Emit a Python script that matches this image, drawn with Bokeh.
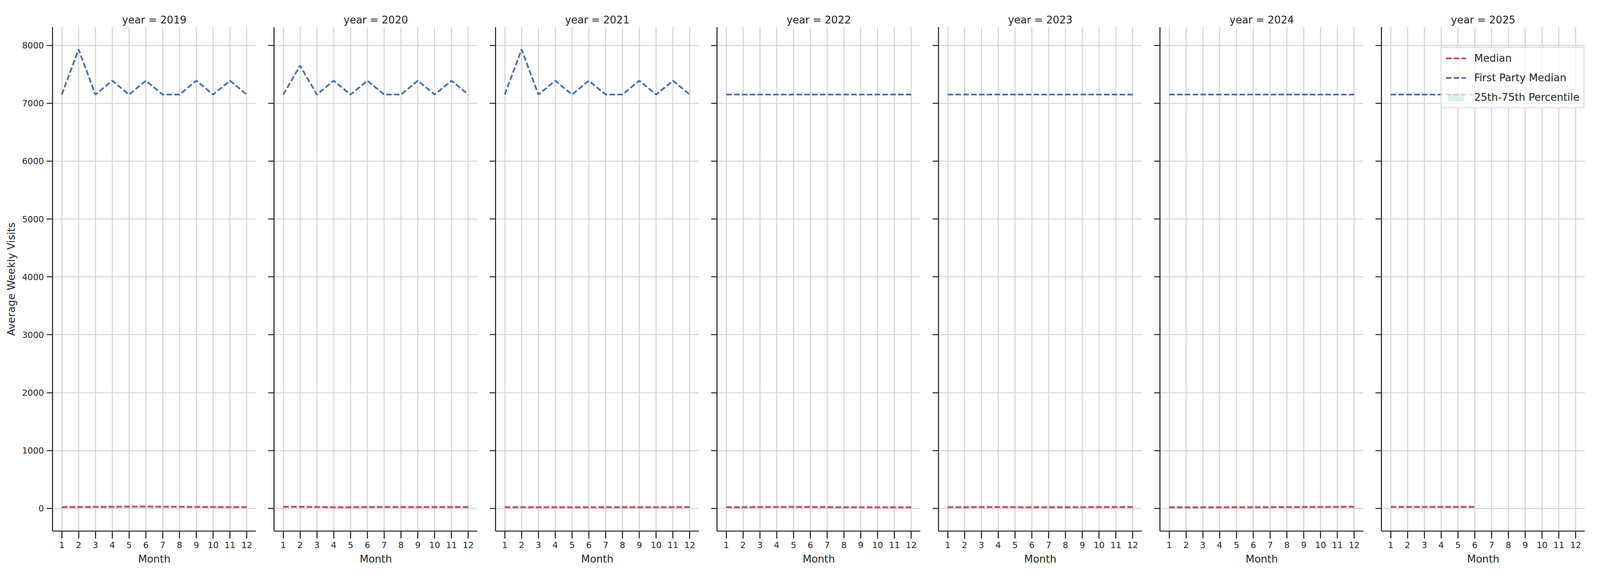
from bokeh.embed import file_html
from bokeh.layouts import row
from bokeh.models import ColumnDataSource, FixedTicker, Legend, LegendItem, Range1d
from bokeh.plotting import figure
from bokeh.resources import INLINE

# facets
years = [2019, 2020, 2021, 2022, 2023, 2024, 2025]
months = [
    [1, 2, 3, 4, 5, 6, 7, 8, 9, 10, 11, 12],
    [1, 2, 3, 4, 5, 6, 7, 8, 9, 10, 11, 12],
    [1, 2, 3, 4, 5, 6, 7, 8, 9, 10, 11, 12],
    [1, 2, 3, 4, 5, 6, 7, 8, 9, 10, 11, 12],
    [1, 2, 3, 4, 5, 6, 7, 8, 9, 10, 11, 12],
    [1, 2, 3, 4, 5, 6, 7, 8, 9, 10, 11, 12],
    [1, 2, 3, 4, 5, 6],
]

# median weekly visits (red)
median = [
    [22, 24, 26, 28, 30, 31, 30, 28, 26, 24, 23, 22],
    [29, 28, 24, 21, 21, 24, 24, 24, 23, 23, 23, 23],
    [22, 22, 21, 21, 20, 20, 21, 21, 21, 21, 22, 23],
    [21, 21, 23, 25, 26, 25, 22, 20, 19, 19, 19, 20],
    [22, 22, 23, 23, 22, 22, 22, 22, 22, 23, 23, 23],
    [21, 19, 19, 20, 21, 21, 22, 23, 24, 25, 27, 28],
    [26, 26, 27, 27, 27, 27],
]
# 25th / 75th percentile band
q25 = [
    [6, 8, 10, 11, 13, 14, 13, 11, 10, 8, 7, 6],
    [12, 11, 8, 6, 6, 8, 8, 8, 7, 7, 7, 7],
    [6, 6, 5, 5, 5, 5, 5, 5, 5, 5, 6, 7],
    [5, 5, 7, 9, 10, 9, 6, 5, 4, 4, 4, 5],
    [6, 6, 7, 7, 6, 6, 6, 6, 6, 7, 7, 7],
    [5, 4, 4, 5, 5, 5, 6, 7, 8, 9, 11, 12],
    [10, 10, 11, 11, 11, 11],
]
q75 = [
    [44, 46, 49, 52, 55, 56, 55, 52, 49, 46, 45, 44],
    [52, 51, 46, 42, 42, 46, 46, 46, 45, 45, 45, 45],
    [43, 43, 42, 42, 41, 41, 42, 42, 42, 42, 43, 45],
    [42, 42, 45, 48, 49, 48, 43, 41, 40, 40, 40, 41],
    [43, 43, 45, 45, 43, 43, 43, 43, 43, 45, 45, 45],
    [42, 40, 40, 41, 42, 42, 43, 45, 47, 48, 51, 53],
    [49, 49, 51, 51, 51, 51],
]
# first party median (blue)
first_party = [
    [7150, 7930, 7150, 7390, 7150, 7390, 7150, 7150, 7390, 7150, 7390, 7150],
    [7150, 7650, 7150, 7390, 7150, 7390, 7150, 7150, 7390, 7150, 7390, 7150],
    [7150, 7930, 7150, 7390, 7150, 7390, 7150, 7150, 7390, 7150, 7390, 7150],
    [7150, 7150, 7150, 7150, 7150, 7150, 7150, 7150, 7150, 7150, 7150, 7150],
    [7150, 7150, 7150, 7150, 7150, 7150, 7150, 7150, 7150, 7150, 7150, 7150],
    [7150, 7150, 7150, 7150, 7150, 7150, 7150, 7150, 7150, 7150, 7150, 7150],
    [7150, 7150, 7150, 7150, 7150, 7150],
]

month_ticks = [1, 2, 3, 4, 5, 6, 7, 8, 9, 10, 11, 12]
y_ticks = [0, 1000, 2000, 3000, 4000, 5000, 6000, 7000, 8000]

RED = "#c44e52"
BLUE = "#4c72b0"
BAND = "#57b894"
INK = "#262626"
GRID = "#cccccc"
FONT = "DejaVu Sans"

# the browser shows ~4096 px across, so widths are squeezed, heights kept
SF = 0.8


def fs(v):
    return "%.1fpx" % (v * SF)


plots = []
for i, yr in enumerate(years):
    first = i == 0
    p = figure(
        frame_width=521, frame_height=1290,
        x_range=Range1d(0.45, 12.55), y_range=Range1d(-392, 8315),
        output_backend="svg", toolbar_location=None,
        min_border_left=134 if first else 46, min_border_right=0,
        min_border_top=69, min_border_bottom=110,
        title="year = %d" % yr,
    )
    p.outline_line_color = None
    p.title.align = "center"
    p.title.text_font = FONT
    p.title.text_font_size = fs(33)
    p.title.text_font_style = "normal"
    p.title.text_color = INK
    p.title.standoff = 7

    src = ColumnDataSource(dict(m=months[i], med=median[i], lo=q25[i], hi=q75[i], fp=first_party[i]))
    band = p.varea(x="m", y1="lo", y2="hi", source=src, fill_color=BAND, fill_alpha=0.2)
    red = p.line(x="m", y="med", source=src, line_color=RED, line_width=4.5, line_dash="14 6")
    blue = p.line(x="m", y="fp", source=src, line_color=BLUE, line_width=4.5, line_dash="14 6")

    for ax in (p.xaxis[0], p.yaxis[0]):
        ax.axis_line_color = INK
        ax.axis_line_width = 2.7
        ax.major_tick_line_color = INK
        ax.major_tick_line_width = 2.7
        ax.major_tick_in = 0
        ax.minor_tick_line_color = None
        ax.major_label_text_font = FONT
        ax.major_label_text_font_size = fs(27.5)
        ax.major_label_text_color = INK
        ax.axis_label_text_font = FONT
        ax.axis_label_text_font_size = fs(33)
        ax.axis_label_text_font_style = "normal"
        ax.axis_label_text_color = INK

    p.xaxis.ticker = FixedTicker(ticks=month_ticks)
    p.xaxis.major_tick_out = 19
    p.xaxis.major_label_standoff = 8
    p.xaxis.axis_label = "Month"
    p.xaxis.axis_label_standoff = 9
    p.yaxis.ticker = FixedTicker(ticks=y_ticks)
    p.yaxis.major_tick_out = 15
    p.yaxis.major_label_standoff = 7
    if first:
        p.yaxis.axis_label = "Average Weekly Visits"
        p.yaxis.axis_label_standoff = 10
    else:
        p.yaxis.major_label_overrides = {t: "" for t in y_ticks}

    p.xgrid.grid_line_color = GRID
    p.xgrid.grid_line_width = 2.2
    p.ygrid.grid_line_color = GRID
    p.ygrid.grid_line_width = 2.2

    if yr == years[-1]:
        legend = Legend(
            items=[
                LegendItem(label="Median", renderers=[red]),
                LegendItem(label="First Party Median", renderers=[blue]),
                LegendItem(label="25th-75th Percentile", renderers=[band]),
            ],
            location=(152, 1082),
        )
        legend.label_text_font = FONT
        legend.label_text_font_size = fs(33)
        legend.label_text_color = INK
        legend.glyph_width = 52
        legend.glyph_height = 24
        legend.label_height = 24
        legend.label_standoff = 21
        legend.padding = 11
        legend.spacing = 19
        legend.margin = 0
        legend.border_line_color = GRID
        legend.border_line_width = 2
        legend.border_line_alpha = 0.8
        legend.background_fill_alpha = 0.8
        p.add_layout(legend)

    plots.append(p)

layout = row(plots)
open("out.html", "w").write(file_html(layout, INLINE))
